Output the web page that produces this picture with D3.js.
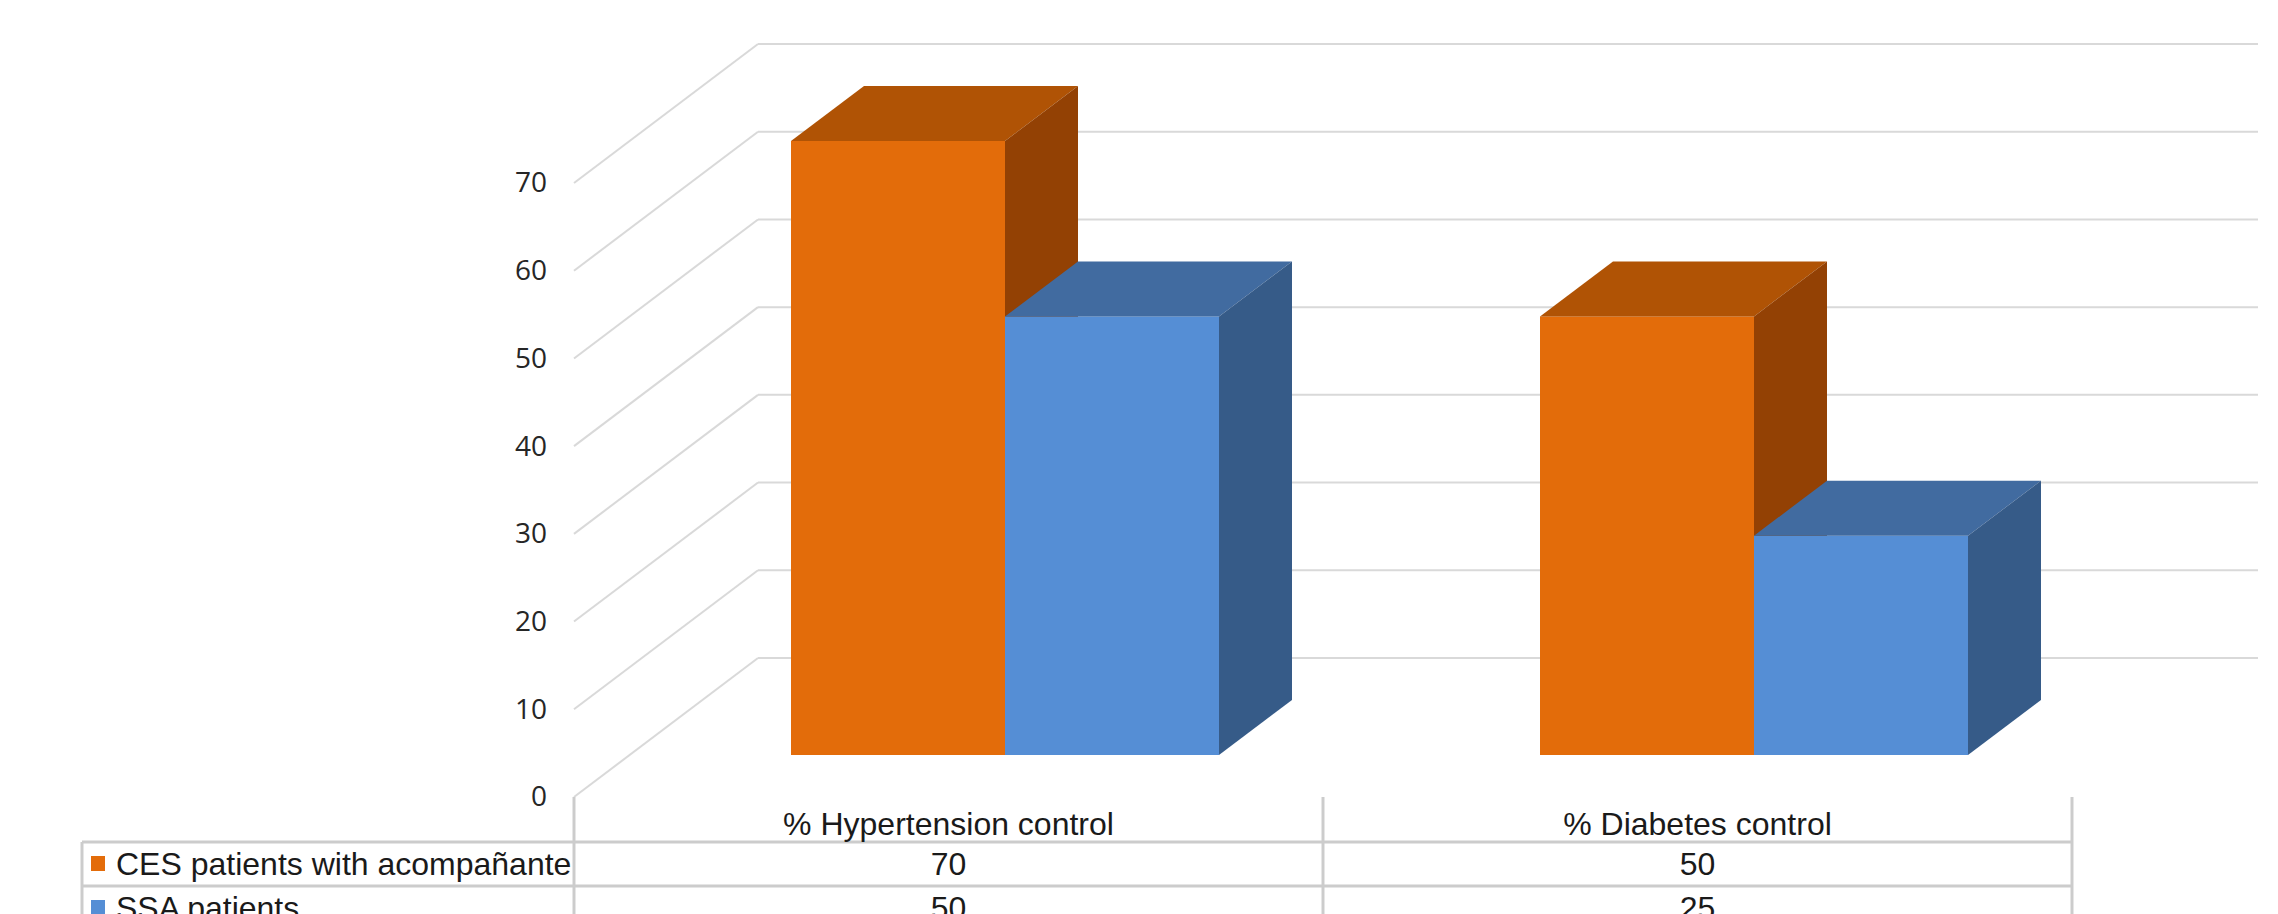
<!DOCTYPE html>
<html>
<head>
<meta charset="utf-8">
<script src="https://cdn.jsdelivr.net/npm/d3@7/dist/d3.min.js"></script>
<style>
  html, body { margin: 0; padding: 0; background: #ffffff; }
  svg { display: block; }
</style>
</head>
<body>
<svg id="chart" width="2278" height="914"></svg>
<script>
// Categories, series and values
const categories = ["% Hypertension control", "% Diabetes control"];
const seriesNames = ["CES patients with acompañante", "SSA patients"];
const cesValues = [70, 50];
const ssaValues = [50, 25];
const yTickValues = [0, 10, 20, 30, 40, 50, 60, 70];

// Colours per series: front, top, side faces
const seriesColors = [
  { front: "#E36C0A", top: "#B05305", side: "#934104", key: "#E36C0A" },
  { front: "#558ED5", top: "#416BA0", side: "#365B88", key: "#558ED5" }
];

const seriesValues = [cesValues, ssaValues];

const svg = d3.select("#chart");
const W = 2278, H = 914;
svg.append("rect").attr("width", W).attr("height", H).attr("fill", "#ffffff");

// Geometry of the 3-D box
const frontLeft = 574, tableRight = 2072;
const wallDx = 184;          // front-left edge to back wall, horizontal
const wallRight = 2258;
const barDepthDx = 73, barDepthDy = -55;

// Scales
const xCat = d3.scaleBand().domain(categories).range([frontLeft, tableRight]).padding(0);
const groupOffset = 217;
const xSeries = d3.scaleBand().domain(seriesNames).range([0, 428]).padding(0);
const yFront = d3.scaleLinear().domain([0, 70]).range([797, 183]);
const yBack = d3.scaleLinear().domain([0, 70]).range([658, 44]);
const yBar = d3.scaleLinear().domain([0, 70]).range([755, 141]);

const gridColor = "#d9d9d9";

// Back-wall gridlines and side-wall diagonals
const grid = svg.append("g").attr("class", "grid");
grid.selectAll("line.back")
  .data(yTickValues)
  .join("line")
  .attr("class", "back")
  .attr("x1", frontLeft + wallDx).attr("x2", wallRight)
  .attr("y1", d => yBack(d)).attr("y2", d => yBack(d))
  .attr("stroke", gridColor).attr("stroke-width", 2);
grid.selectAll("line.side")
  .data(yTickValues)
  .join("line")
  .attr("class", "side")
  .attr("x1", frontLeft).attr("x2", frontLeft + wallDx)
  .attr("y1", d => yFront(d)).attr("y2", d => yBack(d))
  .attr("stroke", gridColor).attr("stroke-width", 2);

// Value axis labels on the front-left edge
const yAxis = d3.axisLeft(yFront)
  .tickValues(yTickValues)
  .tickFormat(d3.format("d"))
  .tickSize(0)
  .tickPadding(27);
const yAxisG = svg.append("g")
  .attr("transform", `translate(${frontLeft},0)`)
  .call(yAxis);
yAxisG.select(".domain").remove();
yAxisG.selectAll("text")
  .attr("font-family", "'Open Sans', sans-serif")
  .attr("font-size", 28)
  .attr("fill", "#262626");

// 3-D bars: for each category draw series left to right
const bars = svg.append("g").attr("class", "bars");
categories.forEach((cat, ci) => {
  seriesNames.forEach((s, si) => {
    const v = seriesValues[si][ci];
    const c = seriesColors[si];
    const x0 = xCat(cat) + groupOffset + xSeries(s);
    const x1 = x0 + xSeries.bandwidth();
    const yt = yBar(v), yb = yBar(0);
    const g = bars.append("g");
    g.append("rect")
      .attr("x", x0).attr("y", yt)
      .attr("width", x1 - x0).attr("height", yb - yt)
      .attr("fill", c.front);
    g.append("path")
      .attr("d", d3.line()([[x0, yt], [x1, yt], [x1 + barDepthDx, yt + barDepthDy], [x0 + barDepthDx, yt + barDepthDy]]) + "Z")
      .attr("fill", c.top);
    g.append("path")
      .attr("d", d3.line()([[x1, yt], [x1 + barDepthDx, yt + barDepthDy], [x1 + barDepthDx, yb + barDepthDy], [x1, yb]]) + "Z")
      .attr("fill", c.side);
  });
});

// Data table beneath the chart
const tableLeft = 82;
const rowTop = 842, rowH = 44;
const lineColor = "#cccccc";
const table = svg.append("g").attr("class", "table");
const colEdges = [frontLeft, ...categories.map(c => xCat(c) + xCat.bandwidth())];

// Horizontal rules
[0, 1, 2].forEach(r => {
  table.append("line")
    .attr("x1", tableLeft).attr("x2", tableRight)
    .attr("y1", rowTop + r * rowH).attr("y2", rowTop + r * rowH)
    .attr("stroke", lineColor).attr("stroke-width", 3);
});
// Vertical rules
table.append("line")
  .attr("x1", tableLeft).attr("x2", tableLeft)
  .attr("y1", rowTop).attr("y2", H)
  .attr("stroke", lineColor).attr("stroke-width", 3);
colEdges.forEach(x => {
  table.append("line")
    .attr("x1", x).attr("x2", x)
    .attr("y1", yFront(0)).attr("y2", H)
    .attr("stroke", lineColor).attr("stroke-width", 3);
});

const tableFont = "'Liberation Sans', Arial, sans-serif";

// Category header labels
table.selectAll("text.cat")
  .data(categories)
  .join("text")
  .attr("class", "cat")
  .attr("x", d => xCat(d) + xCat.bandwidth() / 2)
  .attr("y", 835)
  .attr("text-anchor", "middle")
  .attr("font-family", tableFont)
  .attr("font-size", 32)
  .attr("fill", "#1a1a1a")
  .text(d => d);

// Series rows: legend key, name and values
seriesNames.forEach((s, si) => {
  const base = rowTop + si * rowH;
  table.append("rect")
    .attr("x", 91).attr("y", base + 14)
    .attr("width", 14).attr("height", 15)
    .attr("fill", seriesColors[si].key);
  table.append("text")
    .attr("x", 116).attr("y", base + 33)
    .attr("font-family", tableFont)
    .attr("font-size", 32)
    .attr("fill", "#1a1a1a")
    .text(s);
  categories.forEach((cat, ci) => {
    table.append("text")
      .attr("x", xCat(cat) + xCat.bandwidth() / 2)
      .attr("y", base + 33)
      .attr("text-anchor", "middle")
      .attr("font-family", tableFont)
      .attr("font-size", 32)
      .attr("fill", "#1a1a1a")
      .text(seriesValues[si][ci]);
  });
});
</script>
</body>
</html>
